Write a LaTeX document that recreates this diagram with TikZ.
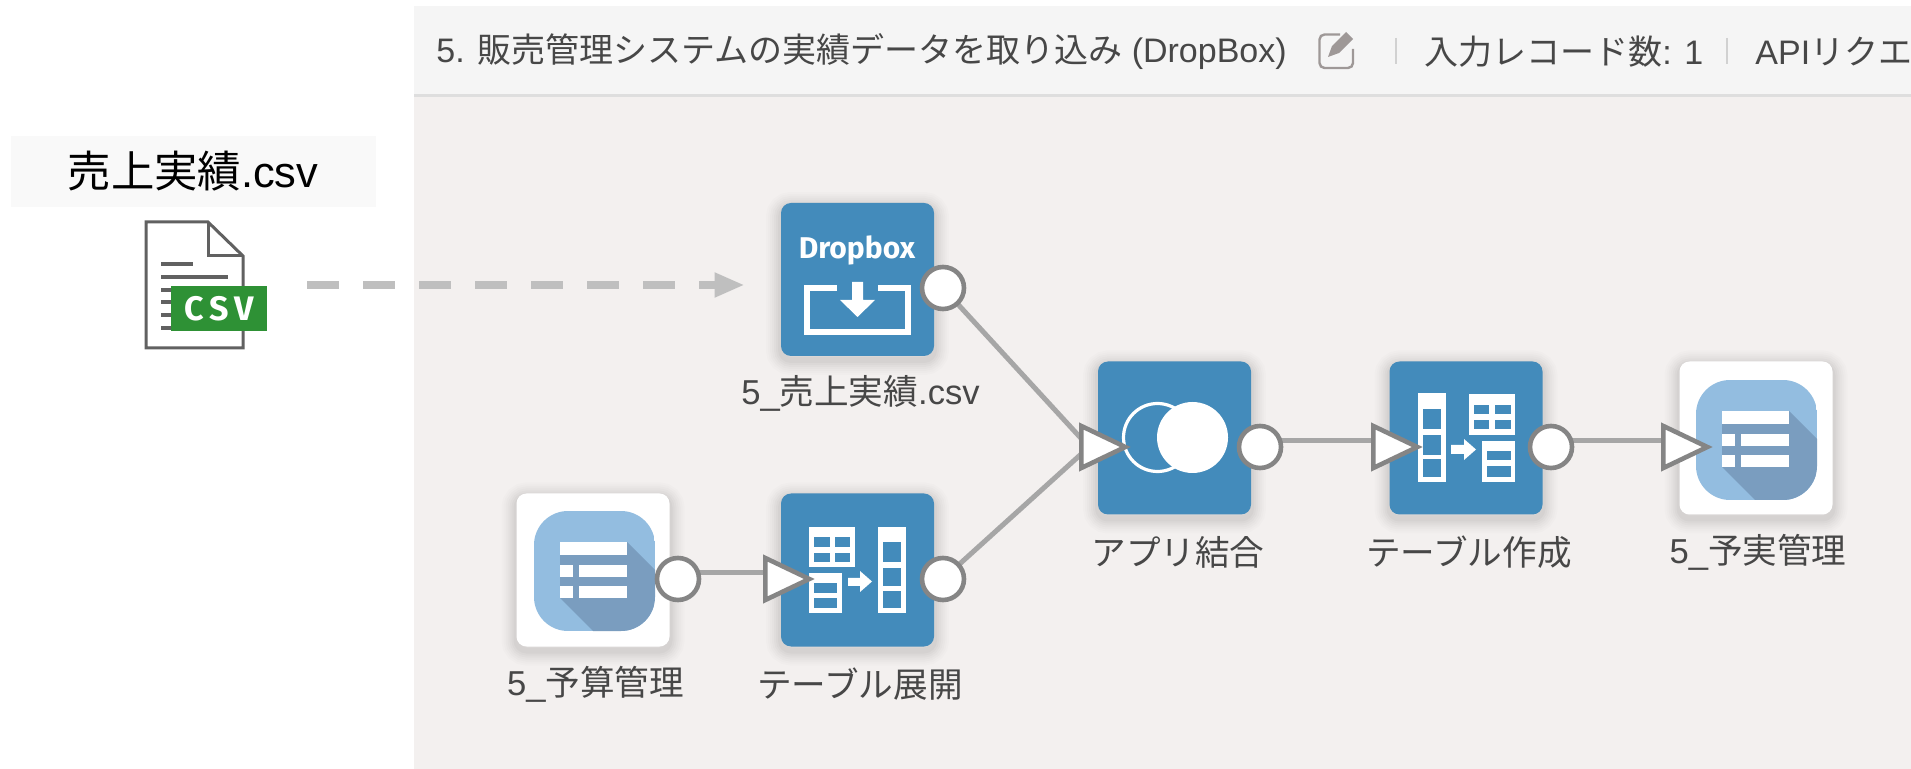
\documentclass[tikz,border=0pt]{standalone}
\usepackage{fontspec}
\usetikzlibrary{arrows.meta,shapes.geometric,backgrounds}
\setmainfont{Liberation Sans}
\newfontfamily\cjkf{Noto Sans CJK JP}
\newfontfamily\dbf{Fira Sans}
\newcommand{\jp}[1]{{\cjkf #1}}
\definecolor{tileblue}{HTML}{438BBB}
\definecolor{panelbg}{HTML}{F3F0EF}
\definecolor{headbg}{HTML}{F5F5F5}
\definecolor{portgray}{HTML}{858585}
\definecolor{linegray}{HTML}{A6A6A6}
\definecolor{listblue}{HTML}{93BDE0}
\definecolor{listshade}{HTML}{7A9DBF}
\definecolor{editgray}{HTML}{9E9897}
\definecolor{csvgreen}{HTML}{2E9135}
\pgfdeclarelayer{panel}
\pgfdeclarelayer{conn}
\pgfsetlayers{panel,conn,main}
\tikzset{
  softshadow/.style={
    preaction={transform canvas={yshift=-2pt},draw=black,draw opacity=.010,line width=15pt},
    preaction={transform canvas={yshift=-2pt},draw=black,draw opacity=.012,line width=13pt},
    preaction={transform canvas={yshift=-2pt},draw=black,draw opacity=.014,line width=11pt},
    preaction={transform canvas={yshift=-2pt},draw=black,draw opacity=.016,line width=9pt},
    preaction={transform canvas={yshift=-2pt},draw=black,draw opacity=.018,line width=7pt},
    preaction={transform canvas={yshift=-2pt},draw=black,draw opacity=.02,line width=5pt},
    preaction={transform canvas={yshift=-2pt},draw=black,draw opacity=.025,line width=3pt},
  },
  tile/.style={softshadow,rectangle,rounded corners=5pt,minimum width=76.5pt,minimum height=76.5pt,inner sep=0pt,fill=tileblue},
  whitetile/.style={tile,fill=white},
  outport/.style={circle,draw=portgray,line width=2.3pt,fill=white,minimum size=21pt,inner sep=0pt},
  inport/.style={isosceles triangle,isosceles triangle stretches,shape border rotate=0,draw=portgray,line width=2.3pt,fill=white,minimum width=21pt,minimum height=22pt,inner sep=0pt,anchor=lower side,miter limit=10},
  link/.style={draw=linegray,line width=2.5pt},
  dashlink/.style={draw=black!25,line width=4pt,dash pattern=on 16pt off 12pt,-{Triangle[length=15pt,width=11.5pt]},shorten >=18pt,shorten <=31pt},
  steplabel/.style={font=\fontsize{17.3pt}{21pt}\selectfont,text=black!72,inner sep=0pt,anchor=center},
  headtext/.style={font=\fontsize{17pt}{20pt}\selectfont,text=black!72,inner sep=0pt,anchor=west},
}
\newcommand{\wbox}[4]{\fill[white] (#1,#2) rectangle (#3,#4);}
\newcommand{\hl}[4]{\fill[tileblue] (#1,#2) rectangle (#3,#4);}
\newcommand{\listicon}[2]{%
  \begin{scope}[shift={(#1,#2)}]
    \begin{scope}
      \path[clip,rounded corners=17pt] (17,19) rectangle (138,139);
      \fill[listblue] (17,19) rectangle (138,139);
      \fill[listshade] (110,50) -- (148,88) -- (148,147) -- (84,147) -- (43,106) -- (43,63) -- cycle;
    \end{scope}
    \fill[white] (43,50) rectangle (110,63);
    \fill[white] (43,73) rectangle (56,85);
    \fill[white] (62,73) rectangle (110,85);
    \fill[white] (43,94) rectangle (56,106);
    \fill[white] (62,94) rectangle (110,106);
  \end{scope}}
\begin{document}
\begin{tikzpicture}[x=0.5pt,y=-0.5pt]
\useasboundingbox (0,0) rectangle (1911,769);
\begin{pgfonlayer}{panel}
  \fill[white] (0,0) rectangle (1911,769);
  \fill[panelbg] (414,6) rectangle (1911,769);
  \fill[headbg] (414,6) rectangle (1911,94);
  \fill[black!13] (414,94) rectangle (1911,97);
  \fill[black!2.5] (11,136) rectangle (376,207);
\end{pgfonlayer}
% title label
\node[font=\fontsize{21.7pt}{26pt}\selectfont,text=black,inner sep=0pt] (csvtitle) at (193,171) {\jp{売上実績}.csv};
% csv file icon
\node[inner sep=0pt,minimum width=50pt,minimum height=63.5pt] (csvdoc) at (195,285) {};
\draw[draw=black!62,line width=1.5pt,line join=miter,fill=white] (146,222) -- (208,222) -- (243,256) -- (243,348) -- (146,348) -- cycle;
\draw[draw=black!62,line width=1.5pt] (208,222) -- (208,256) -- (243,256);
\foreach \a/\b/\c in {161/193/264,161/228/277,161/190/290,161/190/302,161/190/315,161/190/328}
  \draw[draw=black!62,line width=1.6pt] (\a,\c) -- (\b,\c);
\node[fill=csvgreen,inner sep=0pt,minimum width=48pt,minimum height=22.5pt,text=white,font=\fontsize{17pt}{17pt}\selectfont\bfseries\dbf] (csvbadge) at (219,308.5) {C\,S\,V};
% header
\node[headtext] (headtitle) at (436,52) {5. \jp{販売管理システムの実績データを取り込み} (DropBox)};
\draw[editgray,line width=1.2pt,rounded corners=2.5pt] (1340,34.5) -- (1319.5,34.5) -- (1319.5,68) -- (1353,68) -- (1353,49);
\fill[editgray] (1328,57) -- (1332,46) -- (1346,32) -- (1353,39) -- (1339,53) -- cycle;
\draw[black!18,line width=.8pt] (1396,38) -- (1396,64);
\draw[black!18,line width=.8pt] (1727,38) -- (1727,64);
\node[headtext] (headcount) at (1424,52) {\jp{入力レコード数}: 1};
\begin{scope}
  \clip (1740,0) rectangle (1911,94);
  \node[headtext] (headapi) at (1755,52) {API\jp{リクエ}};
\end{scope}
% tiles
\node[tile] (dropbox) at (857.5,279.5) {};
\node[tile] (join) at (1174.5,438) {};
\node[tile] (create) at (1466,438) {};
\node[whitetile] (target) at (1756,438) {};
\node[whitetile] (budget) at (593,570) {};
\node[tile] (expand) at (857.5,570) {};
% dropbox glyph
\node[text=white,inner sep=0pt,font=\fontsize{15pt}{16pt}\selectfont\bfseries\dbf] (dblabel) at (857,250) {Dropbox};
\draw[white,line width=3pt,line join=miter] (837,288) -- (807,288) -- (807,332) -- (908,332) -- (908,288) -- (878,288);
\fill[white] (852,282) -- (863,282) -- (863,300) -- (875,300) -- (857.5,317) -- (840,300) -- (852,300) -- cycle;
% join glyph
\draw[white,line width=1.6pt] (1157.5,437.5) circle[radius=34];
\fill[white] (1192.5,437.5) circle[radius=35.5];
% create glyph
\wbox{1417.5}{393}{1446}{482}
\hl{1423}{409}{1441}{429}\hl{1423}{435}{1441}{455}\hl{1423}{459}{1441}{477}
\wbox{1469}{394}{1515}{435}
\hl{1474}{405}{1489}{414}\hl{1495}{405}{1511}{414}\hl{1474}{420}{1489}{429}\hl{1495}{420}{1511}{429}
\wbox{1482}{441}{1515}{482}
\hl{1487}{451}{1511}{460}\hl{1487}{466}{1511}{477}
\fill[white] (1451,445) -- (1464,445) -- (1464,439) -- (1476,449.5) -- (1464,460) -- (1464,454) -- (1451,454) -- cycle;
% expand glyph
\wbox{809}{527}{855}{567}
\hl{814}{537}{830}{547}\hl{835}{537}{850}{547}\hl{814}{553}{830}{562}\hl{835}{553}{850}{562}
\wbox{809}{573}{842}{613}
\hl{814}{583}{837}{593}\hl{814}{598}{837}{608}
\wbox{878}{527}{906}{613}
\hl{883}{542}{901}{562}\hl{883}{568}{901}{586}\hl{883}{591}{901}{608}
\fill[white] (848,578) -- (860,578) -- (860,571) -- (872,581.5) -- (860,592) -- (860,586) -- (848,586) -- cycle;
% list glyphs
\listicon{517}{492}
\listicon{1679}{361}
% ports
\node[outport] (odrop) at (943,288) {};
\node[outport] (ojoin) at (1260,447) {};
\node[outport] (ocreate) at (1551,447) {};
\node[outport] (obudget) at (678,579) {};
\node[outport] (oexpand) at (943,579) {};
\node[inport] (tjoin) at (1079,447) {};
\node[inport] (tcreate) at (1371,447) {};
\node[inport] (ttarget) at (1661,447) {};
\node[inport] (texpand) at (763,579) {};
% connectors
\begin{pgfonlayer}{conn}
  \draw[link] (odrop.center) -- ([xshift=5pt]tjoin.lower side);
  \draw[link] (oexpand.center) -- ([xshift=5pt]tjoin.lower side);
  \draw[link] ([yshift=3pt]ojoin.center) -- ([yshift=3pt]tcreate.lower side);
  \draw[link] ([yshift=3pt]ocreate.center) -- ([yshift=3pt]ttarget.lower side);
  \draw[link] ([yshift=3pt]obudget.center) -- ([yshift=3pt]texpand.lower side);
\end{pgfonlayer}
\draw[dashlink] (csvdoc.east) -- (csvdoc.east -| dropbox.west);
% labels
\node[steplabel] (ldrop) at (860.5,393) {5\_\jp{売上実績}.csv};
\node[steplabel] (ljoin) at (1178,552) {\jp{アプリ結合}};
\node[steplabel] (lcreate) at (1469,552) {\jp{テーブル作成}};
\node[steplabel] (ltarget) at (1758,552) {5\_\jp{予実管理}};
\node[steplabel] (lbudget) at (595.5,684) {5\_\jp{予算管理}};
\node[steplabel] (lexpand) at (860,684) {\jp{テーブル展開}};
\end{tikzpicture}
\end{document}
